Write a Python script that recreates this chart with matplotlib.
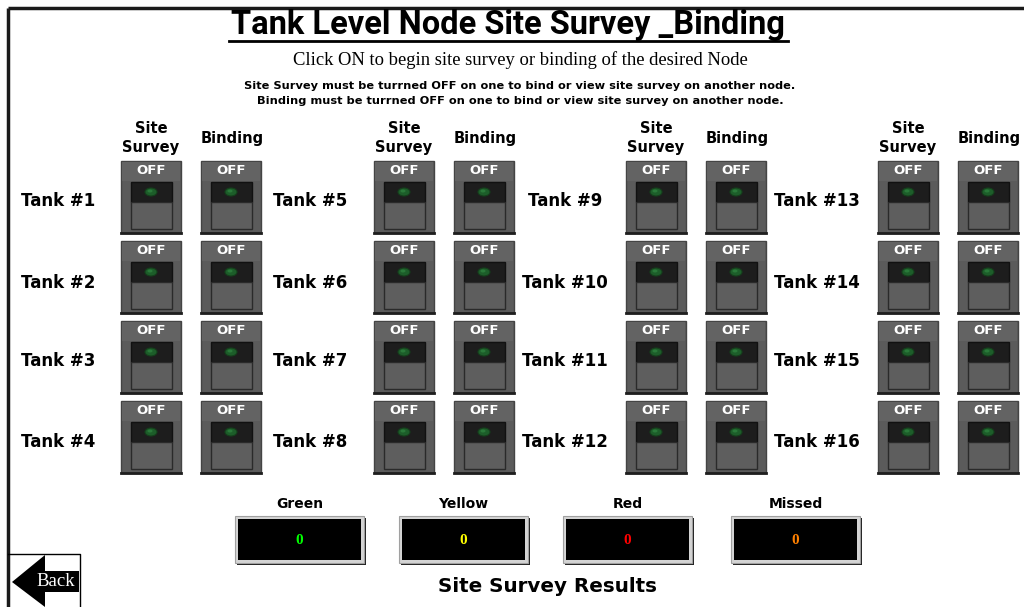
import matplotlib
matplotlib.use("Agg")
import matplotlib.pyplot as plt
from matplotlib.patches import Rectangle, Ellipse, Polygon

# screen texts / data
title = "Tank Level Node Site Survey _Binding"
subtitle = "Click ON to begin site survey or binding of the desired Node"
notes = ["Site Survey must be turrned OFF on one to bind or view site survey on another node.",
         "Binding must be turrned OFF on one to bind or view site survey on another node."]
col_headers = ["Site\nSurvey", "Binding"]
tanks = [["Tank #1", "Tank #2", "Tank #3", "Tank #4"],
         ["Tank #5", "Tank #6", "Tank #7", "Tank #8"],
         ["Tank #9", "Tank #10", "Tank #11", "Tank #12"],
         ["Tank #13", "Tank #14", "Tank #15", "Tank #16"]]
switch_state = "OFF"
result_labels = ["Green", "Yellow", "Red", "Missed"]
result_values = [0, 0, 0, 0]
result_colors = ["#00ff00", "#ffff00", "#ff0000", "#ff8000"]
results_title = "Site Survey Results"

# layout (pixels)
group_x = [121, 374, 626, 878]
label_x = [58, 310, 565, 817]
row_y = [161, 241, 321, 401]
label_dy = [40, 42, 40, 41]
box_x = [235, 399, 563, 731]

W, H = 1024, 607
fig = plt.figure(figsize=(W / 100, H / 100), dpi=100)
ax = fig.add_axes([0, 0, 1, 1])
ax.set_xlim(0, W)
ax.set_ylim(H, 0)
ax.axis("off")

bold = dict(family=["DejaVu Sans"], weight="bold", color="black")

# window frame
ax.plot([8, W], [8, 8], color="#1a1a1a", lw=2.5, solid_capstyle="butt")
ax.plot([8, 8], [8, H], color="#1a1a1a", lw=2.5, solid_capstyle="butt")

# header texts
ax.text(508, 25, title, ha="center", va="center", fontsize=23.5,
        family=["Roboto"], weight="bold")
ax.plot([229, 788], [41, 41], color="black", lw=2)
ax.text(520, 60, subtitle, ha="center", va="center", fontsize=13.4,
        family=["Liberation Serif"])
for i, n in enumerate(notes):
    ax.text(520, 86 + i * 15.5, n, ha="center", va="center", fontsize=8.2, **bold)


def draw_switch(x, y):
    w, h = 60, 72
    ax.add_patch(Rectangle((x, y), w, h, facecolor="#5b5b5b", edgecolor="#444444", lw=1))
    ax.add_patch(Rectangle((x + 1, y + 1), w - 2, 19, facecolor="#636363", edgecolor="none"))
    ax.plot([x, x + w], [y + h, y + h], color="#1e1e1e", lw=2)
    ax.text(x + w / 2, y + 10, switch_state, ha="center", va="center", fontsize=9.5,
            family=["DejaVu Sans"], weight="bold", color="white")
    ax.add_patch(Rectangle((x + 10, y + 21), 41, 20, facecolor="#1d1d1d", edgecolor="#111111", lw=1))
    ax.add_patch(Rectangle((x + 10, y + 41), 41, 27, facecolor="#5e5e5e", edgecolor="#2a2a2a", lw=1))
    ax.add_patch(Ellipse((x + 30, y + 31), 12, 8, facecolor="#1d5e2a", edgecolor="#153f1c", lw=0.8))
    ax.add_patch(Ellipse((x + 29, y + 30), 5, 3, facecolor="#2a7a3a", edgecolor="none"))


for g, gx in enumerate(group_x):
    ax.text(gx + 30, 138, col_headers[0], ha="center", va="center", fontsize=10.5,
            linespacing=1.4, **bold)
    ax.text(gx + 111, 138, col_headers[1], ha="center", va="center", fontsize=10.5, **bold)
    for r, ry in enumerate(row_y):
        draw_switch(gx, ry)
        draw_switch(gx + 80, ry)
        ax.text(label_x[g], ry + label_dy[r], tanks[g][r], ha="center", va="center",
                fontsize=12, **bold)

# results boxes
for i, bx in enumerate(box_x):
    bw, bh = 129, 47
    ax.add_patch(Rectangle((bx + 2, 516 + 2), bw, bh, facecolor="#222222", edgecolor="none"))
    ax.add_patch(Rectangle((bx, 516), bw, bh, facecolor="#d4d4d4", edgecolor="#a0a0a0", lw=0.8))
    ax.add_patch(Rectangle((bx + 3, 519), bw - 6, bh - 6, facecolor="black", edgecolor="none"))
    ax.text(bx + bw / 2, 504, result_labels[i], ha="center", va="center", fontsize=10, **bold)
    ax.text(bx + bw / 2, 541, str(result_values[i]), ha="center", va="center", fontsize=11,
            family=["Liberation Serif"], weight="bold", color=result_colors[i])

ax.text(547, 587, results_title, ha="center", va="center", fontsize=14.3, **bold)

# back button
ax.plot([8, 80, 80], [554, 554, H], color="black", lw=1)
ax.add_patch(Polygon([(12, 582), (45, 555), (45, 571), (79, 571), (79, 592), (45, 592), (45, 607)],
                     closed=True, facecolor="black", edgecolor="none"))
ax.text(56, 581, "Back", ha="center", va="center", fontsize=13.5,
        family=["Liberation Serif"], color="white")

fig.savefig("out.png", dpi=100, facecolor="white")
